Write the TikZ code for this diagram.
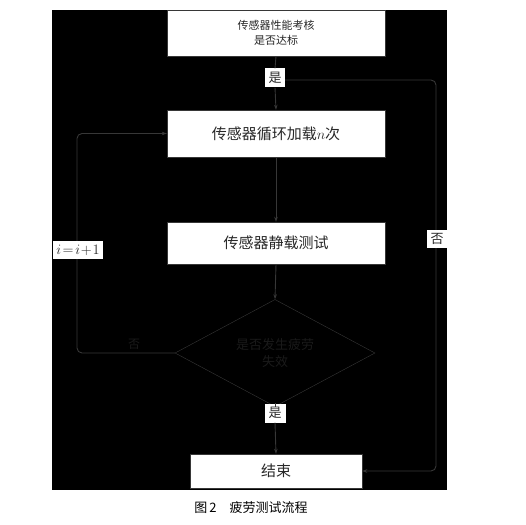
\documentclass[tikz,border=0pt]{standalone}
\usepackage{fontspec}
\newfontfamily\cjk{Noto Sans CJK SC}
\usetikzlibrary{shapes.geometric,arrows.meta}
\definecolor{linec}{RGB}{55,55,55}
\definecolor{txtc}{RGB}{40,40,40}
\definecolor{dtxt}{RGB}{26,26,26}
\begin{document}
\begin{tikzpicture}[x=1pt,y=-1pt,
  box/.style={draw=linec,fill=white,text=txtc,inner sep=0pt,align=center,font=\cjk\fontsize{15}{18}\selectfont},
  lab/.style={fill=white,text=txtc,inner sep=1.5pt,font=\cjk\fontsize{13}{15}\selectfont},
  conn/.style={draw=linec,line width=0.9pt},
  arr/.style={conn,-{Stealth[length=5pt,width=3.5pt]}}]
\useasboundingbox (0,0) rectangle (526,524);
\fill[white] (0,0) rectangle (526,524);
\fill[black] (52,10) rectangle (447,490);
\node[box,minimum width=218pt,minimum height=46pt,font=\cjk\fontsize{11}{15}\selectfont] (top) at (276,33) {传感器性能考核\\是否达标};
\node[box,minimum width=218pt,minimum height=47pt] (load) at (276,133.5) {传感器循环加载$n$次};
\node[box,minimum width=218pt,minimum height=42pt] (stat) at (276,243) {传感器静载测试};
\node[diamond,draw=linec,fill=black,text=dtxt,minimum width=200pt,minimum height=73pt,inner sep=0pt,align=center,font=\cjk\fontsize{13}{17}\selectfont] (dia) at (275,353) {是否发生疲劳\\失效};
\node[box,minimum width=172pt,minimum height=34pt] (end) at (276,471) {结束};
\coordinate (r1) at (436,76);
\coordinate (l1) at (77,0);
\node[lab,minimum width=20pt,minimum height=19pt,inner sep=0pt] (yes1) at (275,78) {是};
\draw[conn] (top.south) -- (yes1.north);
\draw[arr] (yes1.south) -- (load.north);
\draw[arr] (load.south) -- (stat.north);
\draw[arr] (stat.south) -- (dia.north);
\draw[arr,rounded corners=5pt] ([yshift=-2pt]yes1.east) -- ([yshift=-2pt]yes1.east -| r1) -- (r1 |- end.east) -- (end.east);
\draw[arr,rounded corners=5pt] (dia.west) -- (dia.west -| l1) -- (l1 |- load.west) -- (load.west);
\node[lab,minimum width=20pt,minimum height=18pt,inner sep=0pt] (no1) at (437,239) {否};
\node[lab,minimum width=50pt,minimum height=18pt,inner sep=0pt,font=\fontsize{14}{16}\selectfont] (inc) at (78,250) {$i\!=\!i\!+\!1$};
\node[text=dtxt,font=\cjk\fontsize{12}{14}\selectfont] (no2) at (134,344) {否};
\node[lab,minimum width=21pt,minimum height=19pt,inner sep=0pt] (yes2) at (275,413) {是};
\draw[conn] (dia.south) -- (yes2.north);
\draw[arr] (yes2.south) -- (end.north);
\node[text=black,font=\cjk\fontsize{13}{15}\selectfont] (cap) at (251,508) {图\,2\quad 疲劳测试流程};
\end{tikzpicture}
\end{document}
